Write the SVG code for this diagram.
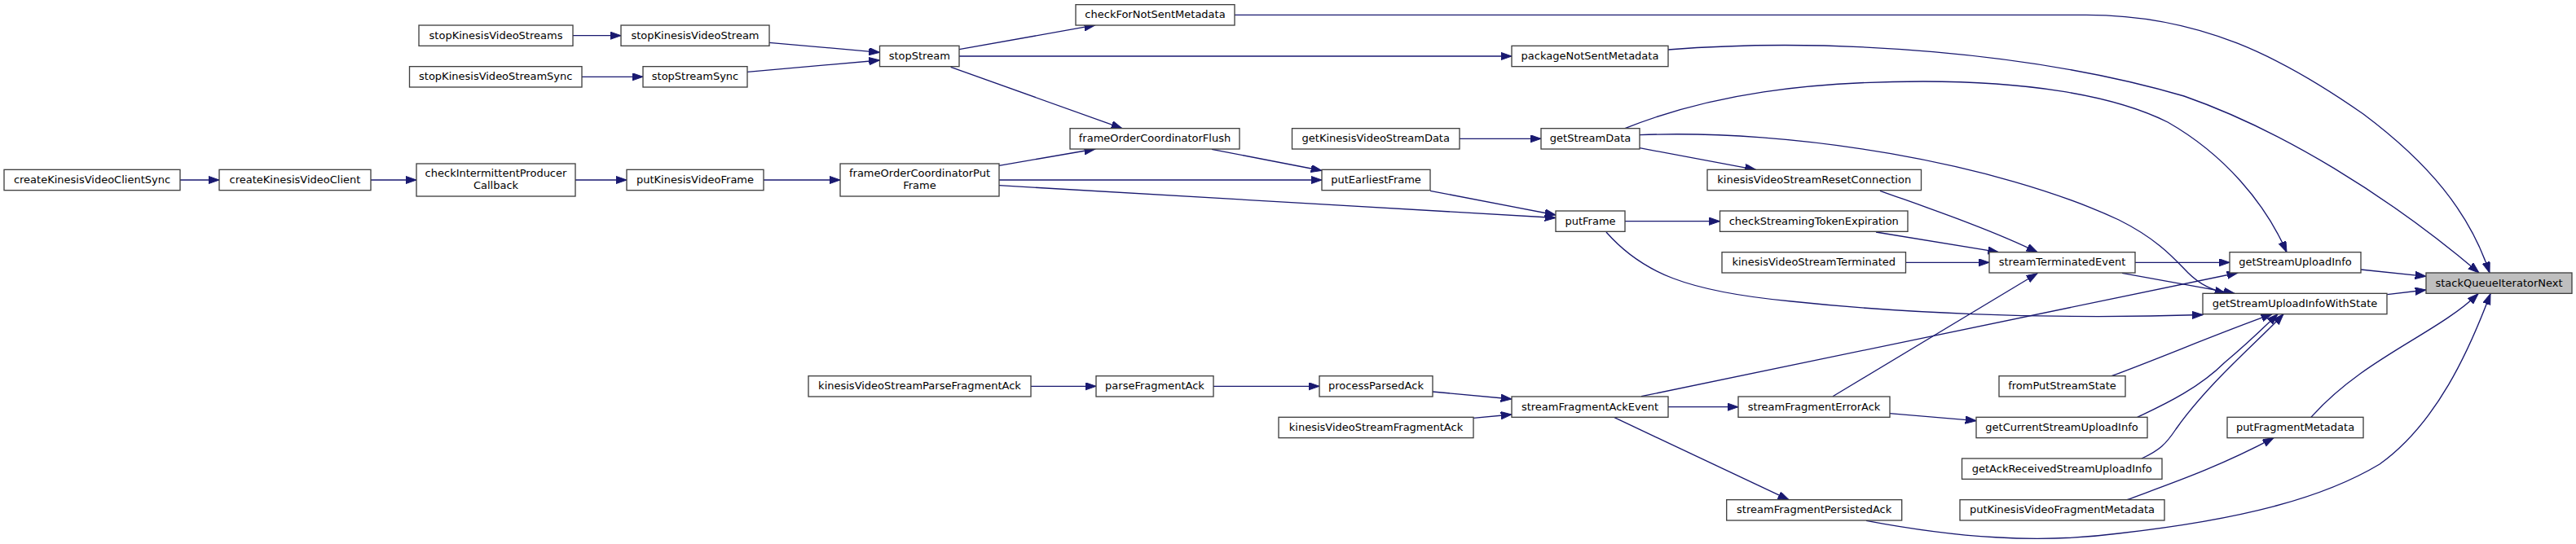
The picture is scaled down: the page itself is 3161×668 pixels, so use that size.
<svg xmlns="http://www.w3.org/2000/svg" width="3161" height="668" viewBox="0 0 3161 668">
<style>
.n rect{fill:#ffffff;stroke:#404040;stroke-width:1.33}
.n.f rect{fill:#bfbfbf}
.n text{font-family:"DejaVu Sans","Liberation Sans",sans-serif;font-size:13px;text-anchor:middle;fill:#000000}
.e path{fill:none;stroke:#191970;stroke-width:1.33;marker-end:url(#arr)}
</style>
<defs>
<marker id="arr" markerUnits="userSpaceOnUse" markerWidth="14" markerHeight="10" refX="13.3" refY="4.67" orient="auto">
<path d="M0,0 L13.3,4.67 L0,9.33 Z" fill="#191970" stroke="#191970" stroke-width="1"/>
</marker>
</defs>
<rect x="0" y="0" width="3161" height="668" fill="#ffffff"/>
<g id="edges" class="e">
<path d="M703,43.7 L762,43.7"/>
<path d="M714,94.3 L789,94.3"/>
<path d="M944,52.3 L1079.5,64.3"/>
<path d="M917,88.3 L1079.5,74"/>
<path d="M1177,60.7 L1343.8,30.9"/>
<path d="M1177,69 L1855,69"/>
<path d="M1166.7,82.3 L1377,157.7"/>
<path d="M221,221 L269,221"/>
<path d="M455,221 L511,221"/>
<path d="M706,221 L769,221"/>
<path d="M937,221 L1031,221"/>
<path d="M1226,203.3 L1343.8,183"/>
<path d="M1226,221 L1622,221"/>
<path d="M1226,227.7 L1909,267.5"/>
<path d="M1487,183.3 L1622,209.5"/>
<path d="M1791,170.3 L1891,170.3"/>
<path d="M1755,234.3 L1909,264"/>
<path d="M1994,271.7 L2110.5,271.7"/>
<path d="M1971,285 C2015,335 2070,358 2198,370 C2320,383 2500,393 2703,386.5"/>
<path d="M1994,157.7 C2100,115 2220,100 2360,100 C2480,100 2590,115 2660,150 C2730,190 2780,250 2806,309.7"/>
<path d="M2012,165.7 C2200,158 2450,200 2600,270 C2650,295 2670,320 2685,335 C2700,350 2715,356 2731,360.3"/>
<path d="M2012,181.7 L2154.4,208.3"/>
<path d="M2307,234.3 C2350,250 2440,280 2500,309.7"/>
<path d="M2302,285 L2452.6,309.7"/>
<path d="M2338.6,322.3 L2441,322.3"/>
<path d="M2620,322.3 L2736,322.3"/>
<path d="M2604,335.3 L2742,360.3"/>
<path d="M2897,331 L2977,339.3"/>
<path d="M2929.3,361.7 L2977,356"/>
<path d="M2014,486.7 L2746,335"/>
<path d="M2249,486.7 L2500,335.7"/>
<path d="M2318.7,507.7 L2425,516.7"/>
<path d="M1758,481 L1855,490"/>
<path d="M1808,513.3 L1855,509"/>
<path d="M1489,474.3 L1619,474.3"/>
<path d="M1265,474.3 L1345,474.3"/>
<path d="M2047,499.7 L2133,499.7"/>
<path d="M1981,512.7 L2195,613.7"/>
<path d="M2290,639.3 C2400,660 2500,668 2600,655 C2750,638 2850,612 2920,570 C2990,520 3030,430 3056,360.7"/>
<path d="M2591,461.7 C2650,440 2720,410 2788,385.7"/>
<path d="M2622.7,512.3 C2660,495 2700,475 2730,445 C2760,420 2780,400 2795,385.7"/>
<path d="M2628,563 C2650,553 2658,545 2670,527 C2710,470 2770,420 2802,385.7"/>
<path d="M2836,512.3 C2900,440 2990,410 3041,360.7"/>
<path d="M2610,613.7 C2660,595 2720,575 2790,537.7"/>
<path d="M1515,18.3 L2560,18.3 C2700,18.3 2800,70 2900,140 C2980,200 3030,260 3055,335"/>
<path d="M2047,61 C2250,45 2500,65 2680,118 C2800,160 2930,240 3042,335"/>
</g>
<g id="stopKinesisVideoStreams" class="n"><rect x="514" y="31" width="189" height="25.33"/><text x="608.5" y="47.7">stopKinesisVideoStreams</text></g>
<g id="stopKinesisVideoStream" class="n"><rect x="762" y="31" width="182" height="25.33"/><text x="853" y="47.7">stopKinesisVideoStream</text></g>
<g id="stopKinesisVideoStreamSync" class="n"><rect x="502.5" y="81.67" width="211.5" height="25.33"/><text x="608.25" y="98.4">stopKinesisVideoStreamSync</text></g>
<g id="stopStreamSync" class="n"><rect x="789" y="81.67" width="128" height="25.33"/><text x="853" y="98.4">stopStreamSync</text></g>
<g id="stopStream" class="n"><rect x="1079.5" y="56.33" width="97.5" height="25.33"/><text x="1128.25" y="73">stopStream</text></g>
<g id="checkForNotSentMetadata" class="n"><rect x="1320" y="5.67" width="195" height="25.33"/><text x="1417.5" y="22.4">checkForNotSentMetadata</text></g>
<g id="packageNotSentMetadata" class="n"><rect x="1855" y="56.33" width="192" height="25.33"/><text x="1951" y="73">packageNotSentMetadata</text></g>
<g id="frameOrderCoordinatorFlush" class="n"><rect x="1313" y="157.67" width="208" height="25.33"/><text x="1417" y="174.4">frameOrderCoordinatorFlush</text></g>
<g id="getKinesisVideoStreamData" class="n"><rect x="1585.5" y="157.67" width="205.5" height="25.33"/><text x="1688.25" y="174.4">getKinesisVideoStreamData</text></g>
<g id="getStreamData" class="n"><rect x="1891" y="157.67" width="121" height="25.33"/><text x="1951.5" y="174.4">getStreamData</text></g>
<g id="createKinesisVideoClientSync" class="n"><rect x="5" y="208.33" width="216" height="25.33"/><text x="113" y="225">createKinesisVideoClientSync</text></g>
<g id="createKinesisVideoClient" class="n"><rect x="269" y="208.33" width="186" height="25.33"/><text x="362" y="225">createKinesisVideoClient</text></g>
<g id="checkIntermittentProducerCallback" class="n"><rect x="511" y="201" width="195" height="40"/><text x="608.5" y="216.5">checkIntermittentProducer</text><text x="608.5" y="232">Callback</text></g>
<g id="putKinesisVideoFrame" class="n"><rect x="769" y="208.33" width="168" height="25.33"/><text x="853" y="225">putKinesisVideoFrame</text></g>
<g id="frameOrderCoordinatorPutFrame" class="n"><rect x="1031" y="201" width="195" height="40"/><text x="1128.5" y="216.5">frameOrderCoordinatorPut</text><text x="1128.5" y="232">Frame</text></g>
<g id="putEarliestFrame" class="n"><rect x="1622" y="208.33" width="133" height="25.33"/><text x="1688.5" y="225">putEarliestFrame</text></g>
<g id="kinesisVideoStreamResetConnection" class="n"><rect x="2095" y="208.33" width="262.5" height="25.33"/><text x="2226.25" y="225">kinesisVideoStreamResetConnection</text></g>
<g id="putFrame" class="n"><rect x="1909" y="259" width="85" height="25.33"/><text x="1951.5" y="275.7">putFrame</text></g>
<g id="checkStreamingTokenExpiration" class="n"><rect x="2110.5" y="259" width="230.5" height="25.33"/><text x="2225.75" y="275.7">checkStreamingTokenExpiration</text></g>
<g id="kinesisVideoStreamTerminated" class="n"><rect x="2113" y="309.67" width="225.5" height="25.33"/><text x="2225.75" y="326.4">kinesisVideoStreamTerminated</text></g>
<g id="streamTerminatedEvent" class="n"><rect x="2441" y="309.67" width="179" height="25.33"/><text x="2530.5" y="326.4">streamTerminatedEvent</text></g>
<g id="getStreamUploadInfo" class="n"><rect x="2736" y="309.67" width="161" height="25.33"/><text x="2816.5" y="326.4">getStreamUploadInfo</text></g>
<g id="stackQueueIteratorNext" class="n f"><rect x="2977" y="335" width="179" height="25.33"/><text x="3066.5" y="351.7">stackQueueIteratorNext</text></g>
<g id="getStreamUploadInfoWithState" class="n"><rect x="2703" y="360.33" width="226" height="25.33"/><text x="2816" y="377">getStreamUploadInfoWithState</text></g>
<g id="kinesisVideoStreamParseFragmentAck" class="n"><rect x="992" y="461.67" width="273" height="25.33"/><text x="1128.5" y="478.4">kinesisVideoStreamParseFragmentAck</text></g>
<g id="parseFragmentAck" class="n"><rect x="1345" y="461.67" width="144" height="25.33"/><text x="1417" y="478.4">parseFragmentAck</text></g>
<g id="processParsedAck" class="n"><rect x="1619" y="461.67" width="139" height="25.33"/><text x="1688.5" y="478.4">processParsedAck</text></g>
<g id="fromPutStreamState" class="n"><rect x="2453" y="461.67" width="155" height="25.33"/><text x="2530.5" y="478.4">fromPutStreamState</text></g>
<g id="streamFragmentAckEvent" class="n"><rect x="1855" y="487" width="192" height="25.33"/><text x="1951" y="503.7">streamFragmentAckEvent</text></g>
<g id="streamFragmentErrorAck" class="n"><rect x="2133" y="487" width="186" height="25.33"/><text x="2226" y="503.7">streamFragmentErrorAck</text></g>
<g id="kinesisVideoStreamFragmentAck" class="n"><rect x="1569" y="512.33" width="239" height="25.33"/><text x="1688.5" y="529">kinesisVideoStreamFragmentAck</text></g>
<g id="getCurrentStreamUploadInfo" class="n"><rect x="2425" y="512.33" width="210" height="25.33"/><text x="2530" y="529">getCurrentStreamUploadInfo</text></g>
<g id="putFragmentMetadata" class="n"><rect x="2733" y="512.33" width="167" height="25.33"/><text x="2816.5" y="529">putFragmentMetadata</text></g>
<g id="getAckReceivedStreamUploadInfo" class="n"><rect x="2407.5" y="563" width="245.5" height="25.33"/><text x="2530.25" y="579.7">getAckReceivedStreamUploadInfo</text></g>
<g id="streamFragmentPersistedAck" class="n"><rect x="2118.7" y="613.67" width="215" height="25.33"/><text x="2226.2" y="630.4">streamFragmentPersistedAck</text></g>
<g id="putKinesisVideoFragmentMetadata" class="n"><rect x="2405" y="613.67" width="251" height="25.33"/><text x="2530.5" y="630.4">putKinesisVideoFragmentMetadata</text></g>
</svg>
